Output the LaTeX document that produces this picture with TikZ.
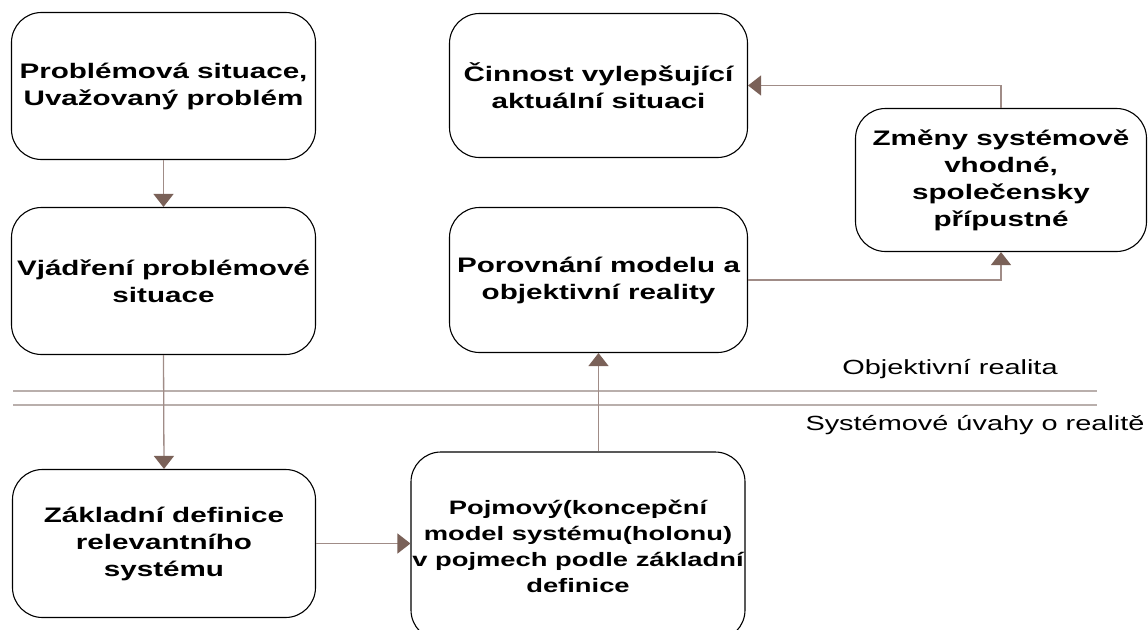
\documentclass[tikz,border=0pt]{standalone}
\usepackage{fontspec}
\setmainfont{Liberation Sans}[FakeStretch=1.41]
\usetikzlibrary{arrows.meta}
\definecolor{linec}{RGB}{160,140,135}
\definecolor{headc}{RGB}{122,97,88}
\definecolor{sepc}{RGB}{185,175,172}
\newcommand{\fitline}[1]{\makebox[300pt]{#1}}
\tikzset{
  box/.style={draw=black, line width=1.1pt, rounded corners=30pt, align=center,
    inner sep=0pt, font=\fontsize{21}{27}\selectfont\bfseries},
  conn/.style={draw=linec, line width=1.3pt,
    -{Triangle[width=20pt,length=13pt,fill=headc,color=headc]}},
  sep/.style={draw=sepc, line width=1.5pt},
  lbl/.style={font=\fontsize{20.5}{24}\selectfont, inner sep=0pt}
}
\begin{document}
\begin{tikzpicture}[x=1pt,y=-1pt]
\useasboundingbox (0,0) rectangle (1148,629);
% separators
\coordinate (s1a) at (13,391); \coordinate (s1b) at (1097,391);
\coordinate (s2a) at (13,405); \coordinate (s2b) at (1097,405);
\draw[sep] (s1a) -- (s1b);
\draw[sep] (s2a) -- (s2b);
\node[lbl] (or) at (950,369) {Objektivní realita};
\node[lbl] (su) at (975,425) {Systémové úvahy o realitě};
% boxes
\node[box, minimum width=304pt, minimum height=147pt] (b1) at (163.5,86)
  {Problémová situace,\\Uvažovaný problém};
\node[box, minimum width=304pt, minimum height=147pt] (b2) at (163.5,281)
  {Vjádření problémové\\situace};
\node[box, minimum width=303pt, minimum height=148pt] (b3) at (164,543.5)
  {Základní definice\\relevantního\\systému};
\node[box, minimum width=334pt, minimum height=188pt,
      font=\fontsize{19.4}{26}\selectfont\bfseries] (b4) at (578,546)
  {\fitline{Pojmový(koncepční}\\\fitline{model systému(holonu)}\\\fitline{v pojmech podle základní}\\\fitline{definice}};
\node[box, minimum width=298pt, minimum height=145pt] (b5) at (598.5,280)
  {Porovnání modelu a\\objektivní reality};
\node[box, minimum width=298pt, minimum height=144pt] (b6) at (598.5,85.5)
  {Činnost vylepšující\\aktuální situaci};
\node[box, minimum width=291pt, minimum height=143pt] (b7) at (1001,180)
  {Změny systémově\\vhodné,\\společensky\\přípustné};
% connectors
\draw[conn] (b1.south) -- (b2.north);
\draw[conn] (b2.south) -- (b3.north);
\draw[conn] (b3.east) -- (b3.east -| b4.west);
\draw[conn] (b5.south |- b4.north) -- (b5.south);
\draw[conn] (b5.east) -| (b7.south);
\draw[conn] (b7.north) |- (b6.east);
\end{tikzpicture}
\end{document}
